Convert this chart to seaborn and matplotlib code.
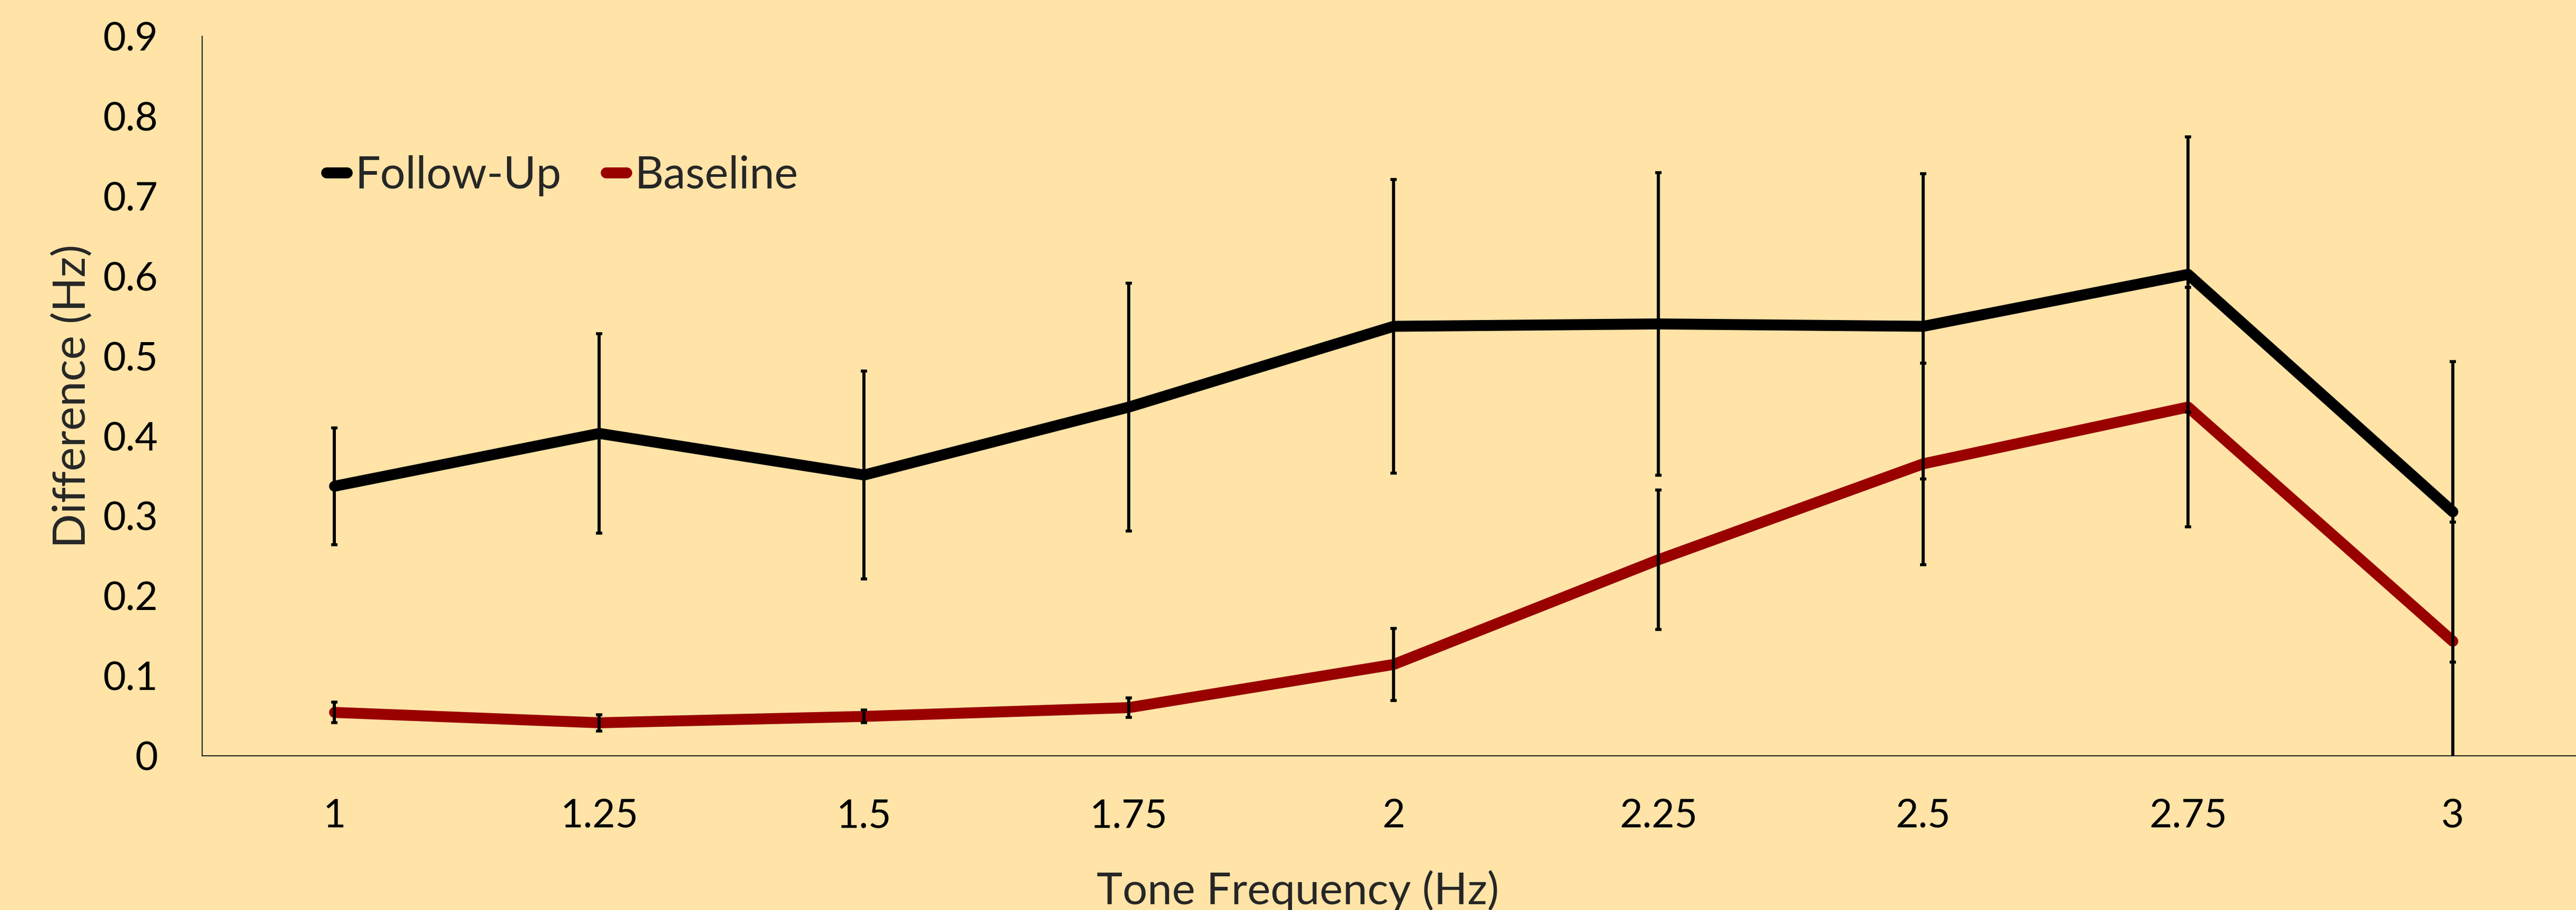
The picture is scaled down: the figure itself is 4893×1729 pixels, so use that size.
import matplotlib
matplotlib.use("Agg")
import matplotlib.pyplot as plt
from matplotlib.lines import Line2D
import seaborn as sns
import pandas as pd

# ---- data ----
freqs = [1.0, 1.25, 1.5, 1.75, 2.0, 2.25, 2.5, 2.75, 3.0]
freq_labels = ["1", "1.25", "1.5", "1.75", "2", "2.25", "2.5", "2.75", "3"]
followup = [0.337, 0.403, 0.351, 0.436, 0.537, 0.540, 0.537, 0.602, 0.305]
followup_err = [0.073, 0.125, 0.130, 0.155, 0.184, 0.189, 0.191, 0.172, 0.188]
baseline = [0.054, 0.041, 0.049, 0.060, 0.114, 0.245, 0.365, 0.436, 0.143]
baseline_err = [0.013, 0.010, 0.008, 0.012, 0.045, 0.087, 0.126, 0.150, 0.149]
series_names = ["Follow-Up", "Baseline"]
series_colors = {"Follow-Up": "#000000", "Baseline": "#990000"}
x_title = "Tone Frequency (Hz)"
y_title = "Difference (Hz)"
y_ticks = [0, 0.1, 0.2, 0.3, 0.4, 0.5, 0.6, 0.7, 0.8, 0.9]
y_tick_labels = ["0", "0.1", "0.2", "0.3", "0.4", "0.5", "0.6", "0.7", "0.8", "0.9"]

df = pd.concat([
    pd.DataFrame({"freq": freqs, "diff": followup, "err": followup_err, "group": "Follow-Up"}),
    pd.DataFrame({"freq": freqs, "diff": baseline, "err": baseline_err, "group": "Baseline"}),
], ignore_index=True)

BG = "#FFE3A7"
sns.set_theme(style="white")
plt.rcParams["font.family"] = ["Lato", "DejaVu Sans"]

W, H = 4893, 1729
fig = plt.figure(figsize=(W / 100, H / 100), dpi=100, facecolor=BG)
ax_left, ax_right, ax_top, ax_bottom = 384, 4893, 68.7, 1435.6
ax = fig.add_axes([ax_left / W, 1 - ax_bottom / H, (ax_right - ax_left) / W, (ax_bottom - ax_top) / H])
ax.set_facecolor(BG)

sns.lineplot(data=df, x="freq", y="diff", hue="group", hue_order=series_names,
             palette=series_colors, linewidth=15, sort=False, legend=False,
             solid_capstyle="round", ax=ax, zorder=2)

for name in series_names:
    sub = df[df["group"] == name]
    ax.errorbar(sub["freq"], sub["diff"], yerr=sub["err"], fmt="none",
                ecolor="black", elinewidth=4.3, capsize=4, capthick=4, zorder=3)

ax.set_ylim(0, 0.9)
ax.set_xlim(0.875, 3.1163)
ax.set_xticks(freqs)
ax.set_xticklabels(freq_labels)
ax.set_yticks(y_ticks)
ax.set_yticklabels(y_tick_labels)
ax.tick_params(axis="both", length=0, labelsize=54, colors="black")
ax.tick_params(axis="y", pad=60)
ax.tick_params(axis="x", pad=58)

for s in ["top", "right"]:
    ax.spines[s].set_visible(False)
for s in ["left", "bottom"]:
    ax.spines[s].set_color("#222222")
    ax.spines[s].set_linewidth(1.5)

ax.set_xlabel(x_title, fontsize=60, va="baseline", ha="center")
ax.xaxis.set_label_coords((2465 - ax_left) / (ax_right - ax_left), -(1718 - ax_bottom) / (ax_bottom - ax_top))
ax.set_ylabel(y_title, fontsize=62, va="center", ha="center")
ax.yaxis.set_label_coords((137 - ax_left) / (ax_right - ax_left), 0.5)

handles = [Line2D([0], [0], color=series_colors[n], lw=15, solid_capstyle="round") for n in series_names]
fig.legend(handles, series_names, loc="center left", bbox_to_anchor=(620 / W, 1 - 334 / H),
           bbox_transform=fig.transFigure, ncol=2, frameon=False, fontsize=61,
           handlelength=0.46, handletextpad=0.18, columnspacing=1.0, borderpad=0, borderaxespad=0)

fig.savefig("out.png", dpi=100, facecolor=BG)
